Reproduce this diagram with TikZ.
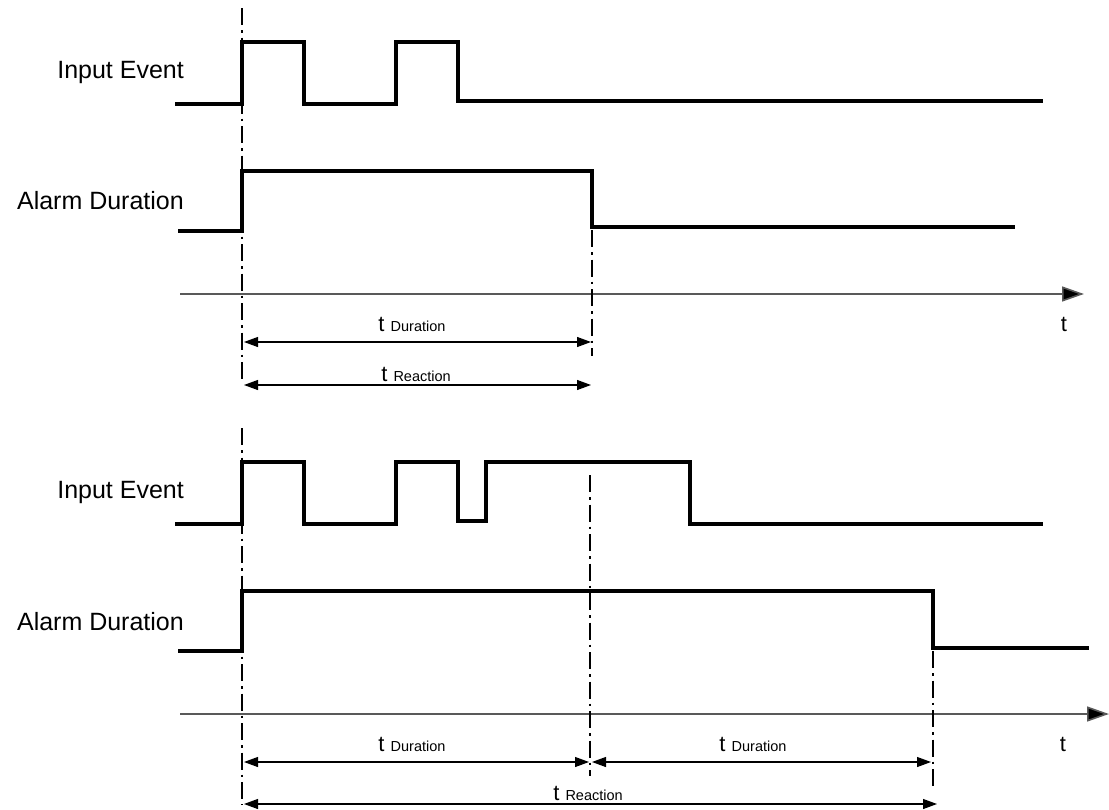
\documentclass[tikz,border=0pt]{standalone}
\usepackage{fontspec}
\setmainfont{Liberation Sans}
\usetikzlibrary{arrows.meta}
\tikzset{
  x=1pt,y=-1pt,
  signal/.style={line width=3.8pt,line join=miter,line cap=butt},
  guide/.style={line width=2.4pt,dash pattern=on 17pt off 5pt on 2.5pt off 5pt},
  axis/.style={line width=1.6pt,draw=black!65,-{Triangle[length=22pt,width=15pt,fill=black]}},
  dim/.style={line width=1.1pt,{Triangle[length=14pt,width=10pt]}-{Triangle[length=14pt,width=10pt]}},
  siglabel/.style={font=\fontsize{25}{25}\selectfont,anchor=east,inner sep=0pt},
  tlabel/.style={font=\fontsize{22}{22}\selectfont,anchor=base,inner sep=0pt},
}
\newcommand{\tsub}[1]{t {\fontsize{14.5}{14.5}\selectfont #1}}
\begin{document}
\begin{tikzpicture}
\useasboundingbox (0,0) rectangle (1109,809);

% ---------- top diagram ----------
\node[siglabel] (ie1) at (184,72) {Input Event};
\node[siglabel] (ad1) at (184,201) {Alarm Duration};

\draw[signal] (175,104) -- (242,104) -- (242,42) -- (304,42) -- (304,104)
  -- (396,104) -- (396,42) -- (458,42) -- (458,101) -- (1043,101);
\draw[signal] (178,231) -- (242,231) -- (242,171) -- (592,171) -- (592,227) -- (1015,227);

\coordinate (a1s) at (180,294);
\coordinate (a1e) at (1084,294);
\draw[axis] (a1s) -- (a1e);
\node[tlabel] (t1) at (1064,331) {t};

\draw[guide] (242,8) -- (242,383);
\draw[guide] (592,230) -- (592,356);

\coordinate (d1a) at (244,342);
\coordinate (d1b) at (591,342);
\draw[dim] (d1a) -- (d1b);
\node[tlabel] (l1) at (412,331) {\tsub{Duration}};

\coordinate (r1a) at (244,385);
\coordinate (r1b) at (591,385);
\draw[dim] (r1a) -- (r1b);
\node[tlabel] (l2) at (416,381) {\tsub{Reaction}};

% ---------- bottom diagram ----------
\node[siglabel] (ie2) at (184,492) {Input Event};
\node[siglabel] (ad2) at (184,622) {Alarm Duration};

\draw[signal] (175,524) -- (242,524) -- (242,462) -- (304,462) -- (304,524)
  -- (396,524) -- (396,462) -- (458,462) -- (458,521) -- (486,521) -- (486,462)
  -- (690,462) -- (690,524) -- (1043,524);
\draw[signal] (178,651) -- (242,651) -- (242,591) -- (933,591) -- (933,648) -- (1089,648);

\coordinate (a2s) at (180,714);
\coordinate (a2e) at (1109,714);
\draw[axis] (a2s) -- (a2e);
\node[tlabel] (t2) at (1063,751) {t};

\draw[guide] (242,428) -- (242,805);
\draw[guide] (590,475) -- (590,776);
\draw[guide] (933,651) -- (933,786);

\coordinate (d2a) at (244,762);
\coordinate (d2b) at (589,762);
\coordinate (d2c) at (592,762);
\coordinate (d2d) at (931,762);
\draw[dim] (d2a) -- (d2b);
\draw[dim] (d2c) -- (d2d);
\node[tlabel] (l3) at (412,751) {\tsub{Duration}};
\node[tlabel] (l4) at (753,751) {\tsub{Duration}};

\coordinate (r2a) at (244,804);
\coordinate (r2b) at (937,804);
\draw[dim] (r2a) -- (r2b);
\node[tlabel] (l5) at (588,800) {\tsub{Reaction}};
\end{tikzpicture}
\end{document}
